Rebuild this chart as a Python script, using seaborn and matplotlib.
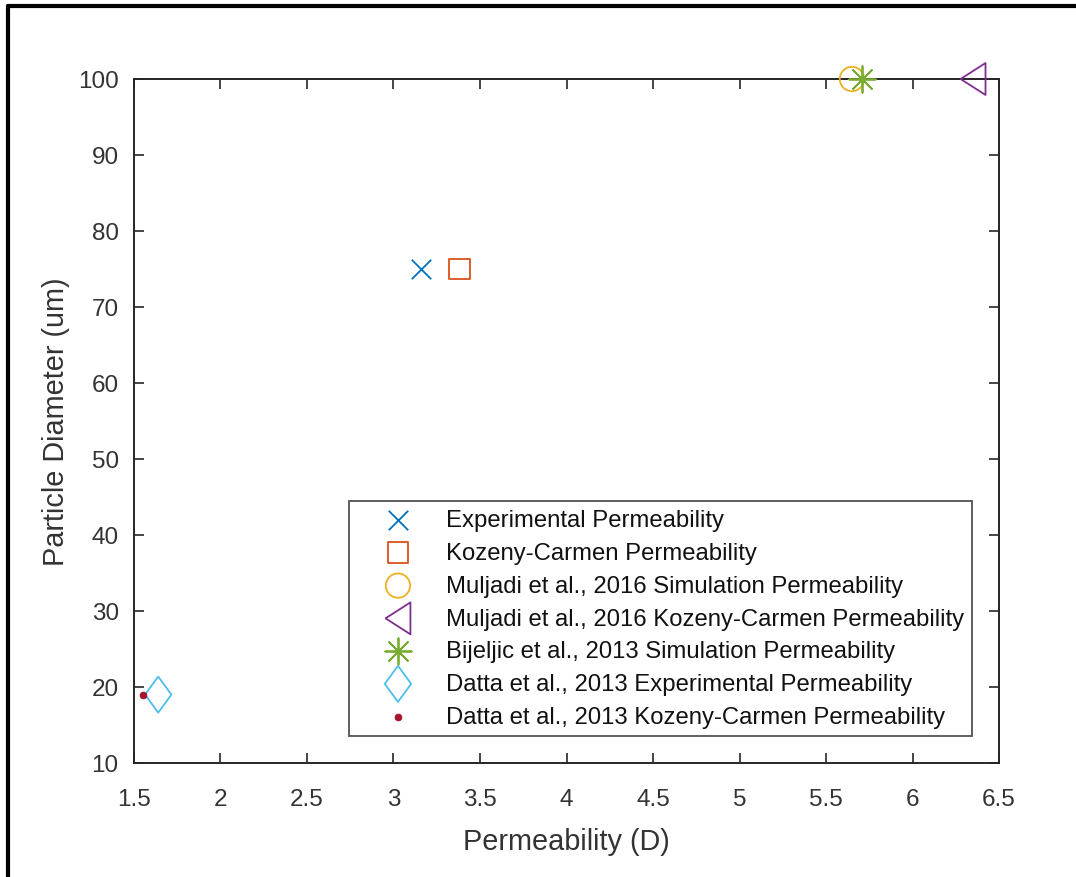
import matplotlib
matplotlib.use("Agg")
import matplotlib.pyplot as plt
import seaborn as sns
import pandas as pd
from matplotlib.lines import Line2D

sns.set_theme(style="white")
plt.rcParams['font.family'] = ['Liberation Sans', 'DejaVu Sans']

labels = [
    "Experimental Permeability",
    "Kozeny-Carmen Permeability",
    "Muljadi et al., 2016 Simulation Permeability",
    "Muljadi et al., 2016 Kozeny-Carmen Permeability",
    "Bijeljic et al., 2013 Simulation Permeability",
    "Datta et al., 2013 Experimental Permeability",
    "Datta et al., 2013 Kozeny-Carmen Permeability",
]
permeability = [3.16, 3.38, 5.65, 6.35, 5.71, 1.64, 1.55]
diameter = [75, 75, 100, 100, 100, 19, 19]
colors = ["#0072BD", "#D95319", "#EDB120", "#7E2F8E", "#77AC30", "#4DBEEE", "#A2142F"]
xtick_vals = [1.5, 2, 2.5, 3, 3.5, 4, 4.5, 5, 5.5, 6, 6.5]
xtick_labels = ["1.5", "2", "2.5", "3", "3.5", "4", "4.5", "5", "5.5", "6", "6.5"]
ytick_vals = [10, 20, 30, 40, 50, 60, 70, 80, 90, 100]

tri_left = [(-0.78, 0), (0.78, 1), (0.78, -1), (-0.78, 0)]
diamond = [(0, 1), (0.73, 0), (0, -1), (-0.73, 0), (0, 1)]
markers = ["x", "s", "o", tri_left, (8, 2, 0), diamond, "o"]
sizes = [14, 15, 17.5, 23, 19, 26, 5]
filled = [True, False, False, False, True, False, True]

df = pd.DataFrame({"Permeability": permeability, "Diameter": diameter, "Source": labels})

fig = plt.figure(figsize=(10.76, 8.78), dpi=100)
ax = fig.add_axes([134/1076, 1-764/878, (999-134)/1076, (764-80)/878])

for i, lab in enumerate(labels):
    sub = df[df["Source"] == lab]
    if filled[i]:
        kw = dict(color=colors[i], edgecolor=colors[i] if markers[i] == "o" else None)
    else:
        kw = dict(facecolor="none", edgecolor=colors[i])
    sns.scatterplot(data=sub, x="Permeability", y="Diameter", ax=ax, marker=markers[i],
                    s=sizes[i]**2, linewidth=1.3 if i != 6 else 0.5, label=lab,
                    zorder=3, clip_on=False, **kw)

ax.set_xlim(1.5, 6.5)
ax.set_ylim(10, 100)
ax.set_xticks(xtick_vals)
ax.set_xticklabels(xtick_labels)
ax.set_yticks(ytick_vals)
ax.tick_params(direction="in", length=7, width=1.2, color="#262626", labelsize=17.5,
               labelcolor="#333333", top=True, right=True, bottom=True, left=True)
ax.tick_params(axis="x", pad=18)
ax.tick_params(axis="y", pad=11)
for s in ax.spines.values():
    s.set_visible(True)
    s.set_color("#262626")
    s.set_linewidth(1.4)
ax.set_xlabel("Permeability (D)", fontsize=20.8, color="#333333", labelpad=12)
ax.set_ylabel("Particle Diameter (um)", fontsize=20.8, color="#333333", labelpad=6)

leg = ax.legend(loc="upper left", bbox_to_anchor=(349/1076, 1-502/878), bbox_transform=fig.transFigure,
                fontsize=17.2, frameon=True, fancybox=False, edgecolor="#262626", borderaxespad=0,
                handletextpad=0.3, borderpad=0.35, labelspacing=0.45, handlelength=3.4, markerscale=1)
leg.get_frame().set_linewidth(1.3)
for t in leg.get_texts():
    t.set_color("#111111")

fig.add_artist(Line2D([8/1076, 8/1076], [0, 1-7/878], transform=fig.transFigure, color="black", lw=3))
fig.add_artist(Line2D([8/1076, 1], [1-7/878, 1-7/878], transform=fig.transFigure, color="black", lw=3))

fig.savefig("out.png", dpi=100)
